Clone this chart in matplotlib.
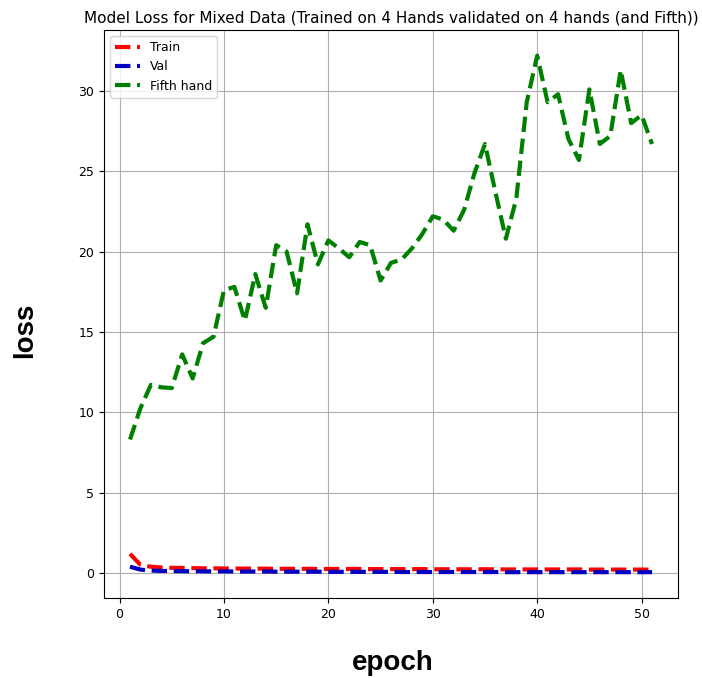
import matplotlib.pyplot as plt

# per-epoch losses
epochs = list(range(1, 52))

train_loss = [1.18, 0.50, 0.38, 0.33, 0.31, 0.30, 0.29, 0.28, 0.28, 0.27,
              0.27, 0.26, 0.26, 0.26, 0.25, 0.25, 0.25, 0.25, 0.24, 0.24,
              0.24, 0.24, 0.24, 0.23, 0.23, 0.23, 0.23, 0.23, 0.23, 0.22,
              0.22, 0.22, 0.22, 0.22, 0.22, 0.22, 0.21, 0.21, 0.21, 0.21,
              0.21, 0.21, 0.21, 0.21, 0.20, 0.20, 0.20, 0.20, 0.20, 0.20,
              0.20]

val_loss = [0.38, 0.20, 0.14, 0.12, 0.11, 0.10, 0.10, 0.09, 0.09, 0.09,
            0.08, 0.08, 0.08, 0.08, 0.07, 0.07, 0.07, 0.07, 0.07, 0.06,
            0.06, 0.06, 0.06, 0.06, 0.06, 0.06, 0.05, 0.05, 0.05, 0.05,
            0.05, 0.05, 0.05, 0.05, 0.05, 0.05, 0.04, 0.04, 0.04, 0.04,
            0.04, 0.04, 0.04, 0.04, 0.04, 0.04, 0.04, 0.04, 0.04, 0.04,
            0.04]

fifth_loss = [8.3, 10.25, 11.7, 11.55, 11.5, 13.6, 12.1, 14.3, 14.7, 17.6,
              17.8, 15.7, 18.6, 16.5, 20.4, 20.0, 17.4, 21.7, 19.2, 20.7,
              20.2, 19.65, 20.6, 20.4, 18.2, 19.3, 19.5, 20.2, 21.1, 22.2,
              22.0, 21.3, 22.6, 24.9, 26.7, 23.7, 20.8, 23.3, 29.3, 32.2,
              29.3, 29.8, 27.0, 25.7, 30.1, 26.7, 27.2, 31.3, 28.0, 28.5,
              26.7]

fig = plt.figure(figsize=(7.02, 6.78), dpi=100)
ax = fig.add_axes([0.148, 0.118, 0.818, 0.838])

ax.plot(epochs, train_loss, '--', color='red', linewidth=3, label='Train')
ax.plot(epochs, val_loss, '--', color='#0000c0', linewidth=3, label='Val')
ax.plot(epochs, fifth_loss, '--', color='green', linewidth=3, label='Fifth hand')

ax.set_title('Model Loss for Mixed Data (Trained on 4 Hands validated on 4 hands (and Fifth))',
             fontsize=11, pad=5)
ax.tick_params(labelsize=9)
ax.grid(True)
ax.legend(loc='upper left', fontsize=9)

# big axis labels drawn on the figure
fig.text(25 / 702, 1 - 330 / 678, 'loss', rotation=90, fontsize=20, fontweight='bold',
         family='Liberation Sans', ha='center', va='center')
fig.text(393 / 702, 1 - 663 / 678, 'epoch', fontsize=20, fontweight='bold',
         family='Liberation Sans', ha='center', va='center')

fig.savefig('out.png', dpi=100)
